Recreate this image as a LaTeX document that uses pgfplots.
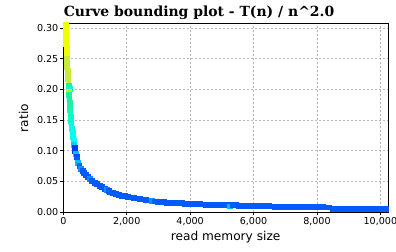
\documentclass[border=0pt]{standalone}
\usepackage{fontspec}
\setmainfont{DejaVu Sans}
\newfontfamily\titlefont{DejaVu Serif}
\usepackage{pgfplots}
\usepackage{pgfplotstable}
\pgfplotsset{compat=1.18}
\pgfplotstableread{
x y c
73 0.3260 6
73 0.3196 6
73 0.3131 6
73 0.3065 6
73 0.3000 6
73 0.2935 6
73 0.2870 6
76 0.2804 6
76 0.2739 6
101 0.2690 6
117 0.2625 6
117 0.2560 6
117 0.2495 5
117 0.2430 5
117 0.2364 5
133 0.2299 5
148 0.2234 5
148 0.2169 5
155 0.2103 5
164 0.2054 4
196 0.2006 3.6
170 0.1957 5
180 0.1908 4
189 0.1842 4
196 0.1777 4
205 0.1712 4
211 0.1663 3.8
215 0.1614 3.6
222 0.1549 3.5
232 0.1484 3.5
246 0.1419 3.2
268 0.1353 3
290 0.1288 3
306 0.1223 3
318 0.1158 3
330 0.1092 2.2
350 0.1044 0
372 0.0995 0
390 0.0946 2
414 0.0897 0.6
440 0.0848 1
464 0.0799 2
502 0.0750 1
558 0.0701 1.6
606 0.0669 1
653 0.0636 1
716 0.0603 1
773 0.0571 1
827 0.0538 1.5
905 0.0505 1
984 0.0481 1
1063 0.0457 1
1142 0.0432 1
1221 0.0408 1
1300 0.0383 1
1379 0.0359 1.6
1442 0.0342 1
1473 0.0323 1
1568 0.0310 1
1663 0.0297 1
1757 0.0285 1
1852 0.0272 1
1947 0.0264 1
2042 0.0256 1
2136 0.0241 1
2231 0.0235 1
2325 0.0225 1
2420 0.0212 1
2515 0.0209 1
2610 0.0205 1
2704 0.0192 1
2799 0.0179 1.6
2893 0.0176 1
2988 0.0174 1
3083 0.0171 1
3177 0.0163 1
3272 0.0153 1
3367 0.0150 1
3461 0.0150 1
3556 0.0148 1
3650 0.0147 1
3745 0.0147 1
3840 0.0139 1
3934 0.0135 1
4029 0.0135 1
4124 0.0134 1
4218 0.0134 1
4313 0.0132 1
4408 0.0126 1
4502 0.0121 1
4597 0.0119 1
4692 0.0119 1
4786 0.0117 1
4881 0.0117 1
4975 0.0116 1
5070 0.0114 1
5165 0.0113 1
5260 0.0095 2
5354 0.0119 1
5449 0.0117 1
5543 0.0104 1
5638 0.0103 1
5733 0.0103 1
5827 0.0101 1
5922 0.0101 1
6017 0.0101 1
6111 0.0099 1
6206 0.0099 1
6301 0.0098 1
6395 0.0098 1
6490 0.0098 1
6585 0.0096 1
6679 0.0088 1
6774 0.0083 1
6869 0.0083 1
6963 0.0082 1
7058 0.0082 1
7152 0.0082 1
7247 0.0082 1
7342 0.0082 1
7436 0.0082 1
7531 0.0082 1
7626 0.0082 1
7720 0.0082 1
7815 0.0082 1
7910 0.0082 1
8004 0.0080 1
8099 0.0080 1
8194 0.0080 1
8288 0.0078 1
8383 0.0078 1
8478 0.0055 1
8572 0.0055 1
8667 0.0055 1
8762 0.0054 1
8856 0.0054 1
8951 0.0054 1
9046 0.0054 1
9140 0.0054 1
9235 0.0054 1
9330 0.0053 1
9424 0.0053 1
9519 0.0053 1
9614 0.0053 1
9708 0.0053 1
9803 0.0053 1
9898 0.0052 1
9992 0.0052 1
10087 0.0052 1
10182 0.0052 1
10276 0.0052 1
}\curvedata
\begin{document}
\begin{tikzpicture}
\useasboundingbox (0,0) rectangle (396bp,252bp);
\begin{axis}[
  at={(63.3bp,40bp)}, anchor=south west,
  scale only axis, width=324.7bp, height=188bp,
  xmin=0, xmax=10240, ymin=0, ymax=0.3067,
  xtick={0,2000,4000,6000,8000,10000},
  ytick={0,0.05,0.1,0.15,0.2,0.25,0.3},
  scaled x ticks=false, scaled y ticks=false,
  /pgf/number format/assume math mode=true,
  xticklabel style={/pgf/number format/.cd, fixed, 1000 sep={,}},
  yticklabel style={/pgf/number format/.cd, fixed, fixed zerofill, precision=2},
  tick label style={font=\fontsize{9.6}{11}\selectfont, inner sep=1.8bp},
  tick align=outside, major tick length=3bp,
  xtick pos=bottom, ytick pos=left,
  tick style={black, line width=0.8bp},
  axis line style={black, line width=1bp},
  grid=major,
  major grid style={color=black!28, line width=0.8bp, dash pattern=on 2bp off 2bp},
  xlabel={read memory size},
  ylabel={ratio},
  every axis x label/.style={at={(axis description cs:0.5,-0.1516)}, anchor=base, font=\fontsize{12.2}{14}\selectfont},
  every axis y label/.style={at={(axis description cs:-0.1226,0.5)}, anchor=center, rotate=90, font=\fontsize{12.2}{14}\selectfont},
  colormap={curvemap}{rgb255(0cm)=(0,55,255) rgb255(1cm)=(5,90,255) rgb255(2cm)=(0,190,255) rgb255(3cm)=(0,255,240) rgb255(4cm)=(30,240,160) rgb255(5cm)=(200,235,60) rgb255(6cm)=(240,255,0)},
  point meta min=0, point meta max=6,
]
\addplot[scatter, only marks, mark=square*, mark size=2.4bp,
  scatter/use mapped color={draw=mapped color, fill=mapped color},
  point meta=explicit] table[x=x, y=y, meta=c] {\curvedata};
\end{axis}
\node[anchor=base, font=\titlefont\bfseries\fontsize{14}{16}\selectfont] at (199bp,235.3bp) {Curve bounding plot - T(n) / n\^{}2.0};
\end{tikzpicture}
\end{document}
